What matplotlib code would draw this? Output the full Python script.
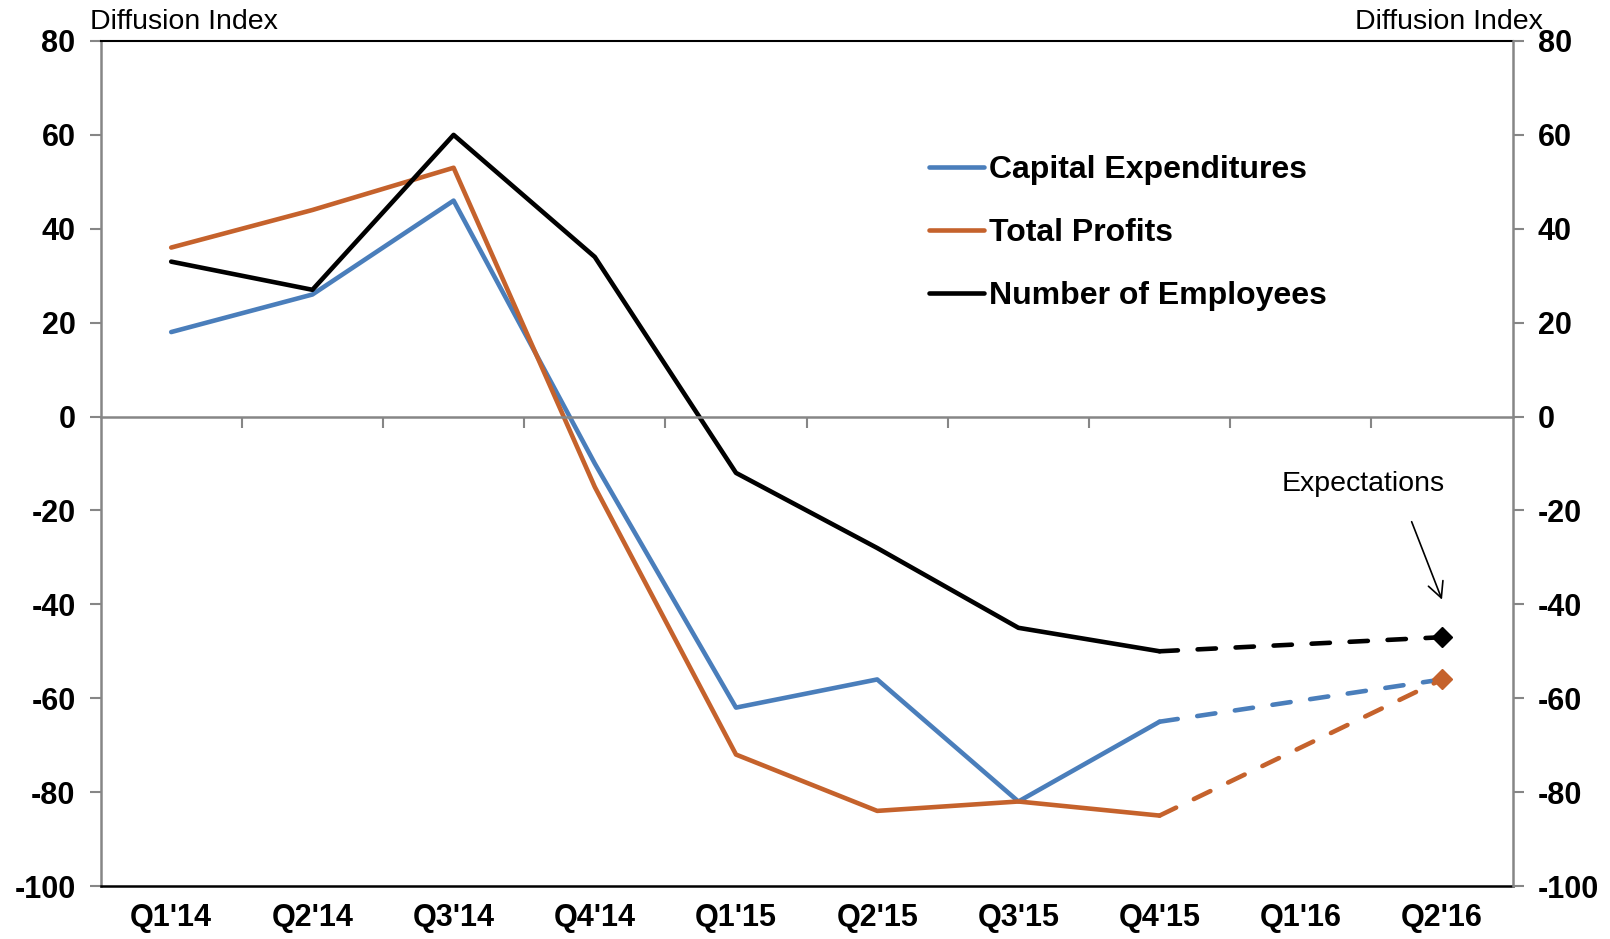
import matplotlib
matplotlib.use("Agg")
import matplotlib.pyplot as plt
import numpy as np

plt.rcParams['font.family'] = ['Liberation Sans', 'DejaVu Sans']
plt.rcParams['axes.unicode_minus'] = False

quarters = ["Q1'14", "Q2'14", "Q3'14", "Q4'14", "Q1'15", "Q2'15",
            "Q3'15", "Q4'15", "Q1'16", "Q2'16"]
capex = [18, 26, 46, -10, -62, -56, -82, -65, None, -56]
profits = [36, 44, 53, -15, -72, -84, -82, -85, None, -56]
employees = [33, 27, 60, 34, -12, -28, -45, -50, None, -47]
last_actual = 7  # Q4'15, after that the values are expectations

series = [
    ("Capital Expenditures", capex, "#4A7EBB"),
    ("Total Profits", profits, "#C5622C"),
    ("Number of Employees", employees, "#000000"),
]

x = np.arange(len(quarters))
gray = "#868686"

fig = plt.figure(figsize=(16.10, 9.39), dpi=100)
ax = fig.add_axes([100.6 / 1610, 1 - 886 / 939, 1412 / 1610, 845 / 939])

for name, vals, col in series:
    xs = x[:last_actual + 1]
    ys = vals[:last_actual + 1]
    ax.plot(xs, ys, color=col, lw=3.3, label=name, solid_capstyle='round', zorder=3)
    ex = [i for i in range(last_actual, len(vals)) if vals[i] is not None]
    ax.plot(ex, [vals[i] for i in ex], color=col, lw=3.3, ls=(0, (4, 4.3)),
            dash_capstyle='round', zorder=3)
    if name != "Capital Expenditures":
        ax.plot(ex[-1], vals[ex[-1]], marker='D', ms=10, color=col, zorder=4)

ax.set_xlim(-0.5, len(quarters) - 0.5)
ax.set_ylim(-100, 80)
ax.set_yticks(np.arange(-100, 81, 20))
ax.set_xticks(x)
ax.set_xticklabels(quarters, fontsize=22, fontweight='bold')
ax.tick_params(axis='x', length=0, pad=12.5)
ax.tick_params(axis='y', length=8, width=1.5, color=gray, pad=10,
               labelsize=22)
for lab in ax.get_yticklabels():
    lab.set_fontweight('bold')

ax.spines['left'].set_color(gray)
ax.spines['left'].set_linewidth(1.8)
ax.spines['right'].set_visible(False)
ax.spines['top'].set_linewidth(1.5)
ax.spines['bottom'].set_linewidth(1.8)

# right axis
ax2 = ax.twinx()
ax2.set_ylim(-100, 80)
ax2.set_yticks(np.arange(-100, 81, 20))
ax2.tick_params(axis='y', length=8, width=1.5, color=gray, pad=10, labelsize=22)
for lab in ax2.get_yticklabels():
    lab.set_fontweight('bold')
for s in ['left', 'top', 'bottom']:
    ax2.spines[s].set_visible(False)
ax2.spines['right'].set_color(gray)
ax2.spines['right'].set_linewidth(1.8)

# zero line with category boundary ticks
ax3 = ax.twiny()
ax3.set_xlim(ax.get_xlim())
ax3.spines['bottom'].set_position(('data', 0))
ax3.spines['bottom'].set_color(gray)
ax3.spines['bottom'].set_linewidth(1.8)
for s in ['left', 'right', 'top']:
    ax3.spines[s].set_visible(False)
ax3.xaxis.set_ticks_position('bottom')
ax3.set_xticks(x[:-1] + 0.5)
ax3.set_xticklabels([])
ax3.tick_params(axis='x', length=8, width=1.5, color=gray)

ax.legend(loc='upper left', bbox_to_anchor=(0.587, 0.865), frameon=False,
          prop={'size': 23, 'weight': 'bold'}, handlelength=1.7,
          handletextpad=0.15, labelspacing=1.03, borderpad=0, borderaxespad=0)

fig.text(90 / 1610, 1 - 22 / 939, "Diffusion Index", fontsize=20.5, va='center', ha='left')
fig.text(1543 / 1610, 1 - 22 / 939, "Diffusion Index", fontsize=20.5, va='center', ha='right')

ax.text(8.44, -14.3, "Expectations", fontsize=20.5, ha='center', va='center')
ax.annotate("", xy=(9, -39), xytext=(8.785, -22.4),
            arrowprops=dict(arrowstyle='->', color='black', lw=1.2,
                            mutation_scale=28, shrinkA=0, shrinkB=0))

fig.savefig("out.png", dpi=100)
